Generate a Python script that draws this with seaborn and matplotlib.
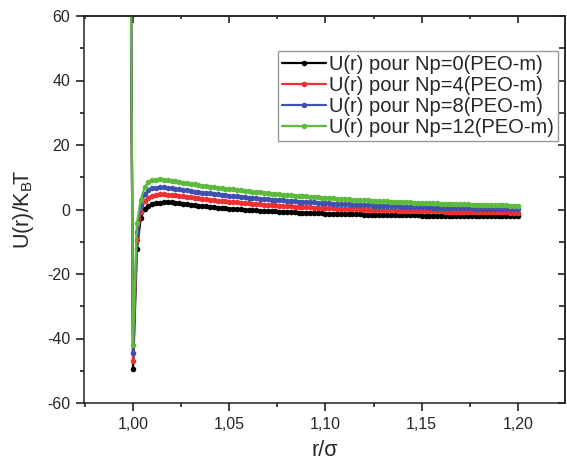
import numpy as np
import pandas as pd
import matplotlib
matplotlib.use("Agg")
import matplotlib.pyplot as plt
import seaborn as sns
from matplotlib.ticker import MultipleLocator

sns.set_style("ticks")
plt.rcParams['font.family'] = ['Liberation Sans', 'DejaVu Sans']

# sampling grid of r/sigma
r_values = [0.998, 1.000] + [float(v) for v in np.round(np.arange(1.002, 1.2001, 0.002), 3)]

u_np0 = [165, -49.6, -12.2, -2.6, 0.2, 1.2, 1.7, 2.0, 2.15, 2.2, 2.2,
         2.20, 2.04, 1.89, 1.74, 1.59, 1.45, 1.32, 1.19, 1.07, 0.94,
         0.83, 0.72, 0.61, 0.50, 0.40, 0.31, 0.22, 0.13, 0.04, -0.05,
         -0.13, -0.20, -0.28, -0.35, -0.42, -0.49, -0.55, -0.61, -0.68, -0.73,
         -0.79, -0.84, -0.90, -0.95, -1.00, -1.04, -1.09, -1.13, -1.17, -1.21,
         -1.25, -1.29, -1.32, -1.36, -1.39, -1.43, -1.46, -1.49, -1.52, -1.54,
         -1.57, -1.60, -1.62, -1.65, -1.67, -1.69, -1.72, -1.73, -1.76, -1.77,
         -1.79, -1.81, -1.83, -1.85, -1.86, -1.88, -1.89, -1.91, -1.92, -1.93,
         -1.95, -1.96, -1.97, -1.98, -2.00, -2.01, -2.02, -2.03, -2.04, -2.05,
         -2.05, -2.06, -2.07, -2.08, -2.09, -2.10, -2.10, -2.11, -2.12, -2.12,
         -2.13]

u_np4 = [162, -47.0, -9.6, -0.64, 2.58, 3.72, 4.26, 4.54, 4.67, 4.69, 4.62,
         4.54, 4.37, 4.20, 4.04, 3.88, 3.73, 3.58, 3.43, 3.30, 3.16,
         3.02, 2.90, 2.77, 2.65, 2.53, 2.42, 2.32, 2.21, 2.10, 2.00,
         1.90, 1.81, 1.72, 1.63, 1.54, 1.46, 1.38, 1.30, 1.22, 1.15,
         1.07, 1.00, 0.93, 0.87, 0.80, 0.74, 0.68, 0.62, 0.57, 0.51,
         0.45, 0.40, 0.35, 0.30, 0.26, 0.20, 0.16, 0.11, 0.07, 0.04,
         -0.01, -0.05, -0.09, -0.13, -0.16, -0.19, -0.23, -0.26, -0.30, -0.32,
         -0.35, -0.39, -0.42, -0.45, -0.47, -0.50, -0.52, -0.55, -0.57, -0.59,
         -0.62, -0.64, -0.66, -0.68, -0.71, -0.73, -0.75, -0.77, -0.79, -0.80,
         -0.82, -0.84, -0.85, -0.87, -0.89, -0.90, -0.91, -0.93, -0.95, -0.95,
         -0.97]

u_np8 = [160, -44.6, -7.0, 1.10, 4.69, 5.95, 6.52, 6.79, 6.90, 6.89, 6.75,
         6.62, 6.44, 6.25, 6.08, 5.91, 5.74, 5.58, 5.42, 5.27, 5.12,
         4.97, 4.83, 4.69, 4.55, 4.42, 4.30, 4.17, 4.05, 3.93, 3.81,
         3.70, 3.60, 3.48, 3.39, 3.28, 3.19, 3.09, 2.99, 2.90, 2.81,
         2.72, 2.64, 2.55, 2.48, 2.39, 2.32, 2.24, 2.18, 2.10, 2.04,
         1.96, 1.90, 1.83, 1.78, 1.71, 1.65, 1.59, 1.53, 1.48, 1.43,
         1.37, 1.32, 1.27, 1.22, 1.17, 1.13, 1.09, 1.05, 1.00, 0.96,
         0.92, 0.88, 0.84, 0.80, 0.76, 0.73, 0.69, 0.66, 0.62, 0.59,
         0.55, 0.52, 0.49, 0.47, 0.44, 0.41, 0.38, 0.35, 0.32, 0.30,
         0.27, 0.25, 0.23, 0.20, 0.18, 0.16, 0.14, 0.11, 0.09, 0.08,
         0.05]

u_np12 = [158, -41.9, -4.2, 3.0, 7.0, 8.4, 9.0, 9.25, 9.35, 9.3, 9.1,
          8.89, 8.70, 8.50, 8.32, 8.13, 7.95, 7.77, 7.60, 7.43, 7.27,
          7.10, 6.95, 6.79, 6.64, 6.49, 6.35, 6.21, 6.07, 5.93, 5.80,
          5.67, 5.55, 5.42, 5.31, 5.19, 5.08, 4.96, 4.85, 4.74, 4.64,
          4.53, 4.43, 4.33, 4.24, 4.14, 4.05, 3.96, 3.88, 3.79, 3.71,
          3.62, 3.54, 3.46, 3.39, 3.31, 3.24, 3.16, 3.09, 3.02, 2.96,
          2.89, 2.83, 2.76, 2.70, 2.64, 2.59, 2.53, 2.48, 2.42, 2.37,
          2.31, 2.26, 2.21, 2.16, 2.11, 2.07, 2.02, 1.98, 1.93, 1.89,
          1.84, 1.80, 1.76, 1.73, 1.69, 1.65, 1.61, 1.58, 1.54, 1.51,
          1.47, 1.44, 1.41, 1.38, 1.35, 1.32, 1.29, 1.26, 1.23, 1.21,
          1.18]

series_labels = ["U(r) pour Np=0(PEO-m)", "U(r) pour Np=4(PEO-m)",
                 "U(r) pour Np=8(PEO-m)", "U(r) pour Np=12(PEO-m)"]
series_colors = ["#000000", "#f03030", "#3f51b0", "#5cbb3c"]

x_ticks = [1.00, 1.05, 1.10, 1.15, 1.20]
x_tick_labels = ["1,00", "1,05", "1,10", "1,15", "1,20"]
y_ticks = [-60, -40, -20, 0, 20, 40, 60]
y_tick_labels = ["-60", "-40", "-20", "0", "20", "40", "60"]

fig = plt.figure(figsize=(5.67, 4.62), dpi=100)
ax = fig.add_axes([84 / 567, 1 - 403 / 462, (565 - 84) / 567, (403 - 16) / 462])

for lab, vals, col in zip(series_labels, [u_np0, u_np4, u_np8, u_np12], series_colors):
    sns.lineplot(x=r_values, y=vals, color=col, marker='o', markersize=4.0,
                 markeredgewidth=0, linewidth=1.6, label=lab, ax=ax,
                 sort=False, estimator=None)

ax.set_xlim(0.9745, 1.2245)
ax.set_ylim(-60, 60)
ax.set_xticks(x_ticks)
ax.set_xticklabels(x_tick_labels)
ax.set_yticks(y_ticks)
ax.set_yticklabels(y_tick_labels)
ax.xaxis.set_minor_locator(MultipleLocator(0.025))
ax.yaxis.set_minor_locator(MultipleLocator(10))
ax.tick_params(axis='both', which='major', direction='out', length=6, width=1.2,
               labelsize=11.5, color='#222222', pad=4,
               bottom=True, left=True, top=False, right=False)
ax.tick_params(axis='both', which='minor', direction='out', length=3, width=1.2,
               color='#222222', bottom=True, left=True, top=False, right=False)

for s in ax.spines.values():
    s.set_linewidth(1.1)
    s.set_color('#222222')
    s.set_visible(True)

secx = ax.secondary_xaxis('top')
secx.set_xticks(x_ticks)
secx.xaxis.set_minor_locator(MultipleLocator(0.025))
secx.tick_params(which='major', direction='in', length=5, width=1.2, labeltop=False, color='#222222')
secx.tick_params(which='minor', direction='in', length=2.5, width=1.2, color='#222222')
secx.spines['top'].set_linewidth(1.1)

secy = ax.secondary_yaxis('right')
secy.set_yticks(y_ticks)
secy.yaxis.set_minor_locator(MultipleLocator(10))
secy.tick_params(which='major', direction='in', length=5, width=1.2, labelright=False, color='#222222')
secy.tick_params(which='minor', direction='in', length=4, width=1.2, color='#222222')
secy.spines['right'].set_linewidth(1.1)

ax.set_xlabel('r/σ', fontsize=15.5, labelpad=6)
ax.set_ylabel('U(r)/$\\mathregular{K_{B}\\!T}$', fontsize=15.5, labelpad=8)

leg = ax.legend(loc='upper right', bbox_to_anchor=(0.9854, 0.9096), fontsize=14.5,
                frameon=True, fancybox=False, edgecolor='#999999', framealpha=1,
                borderpad=0.2, labelspacing=0.1, handlelength=2.2,
                handletextpad=0.15, borderaxespad=0, numpoints=1)
leg.get_frame().set_linewidth(1.0)

fig.savefig('out.png', dpi=100)
